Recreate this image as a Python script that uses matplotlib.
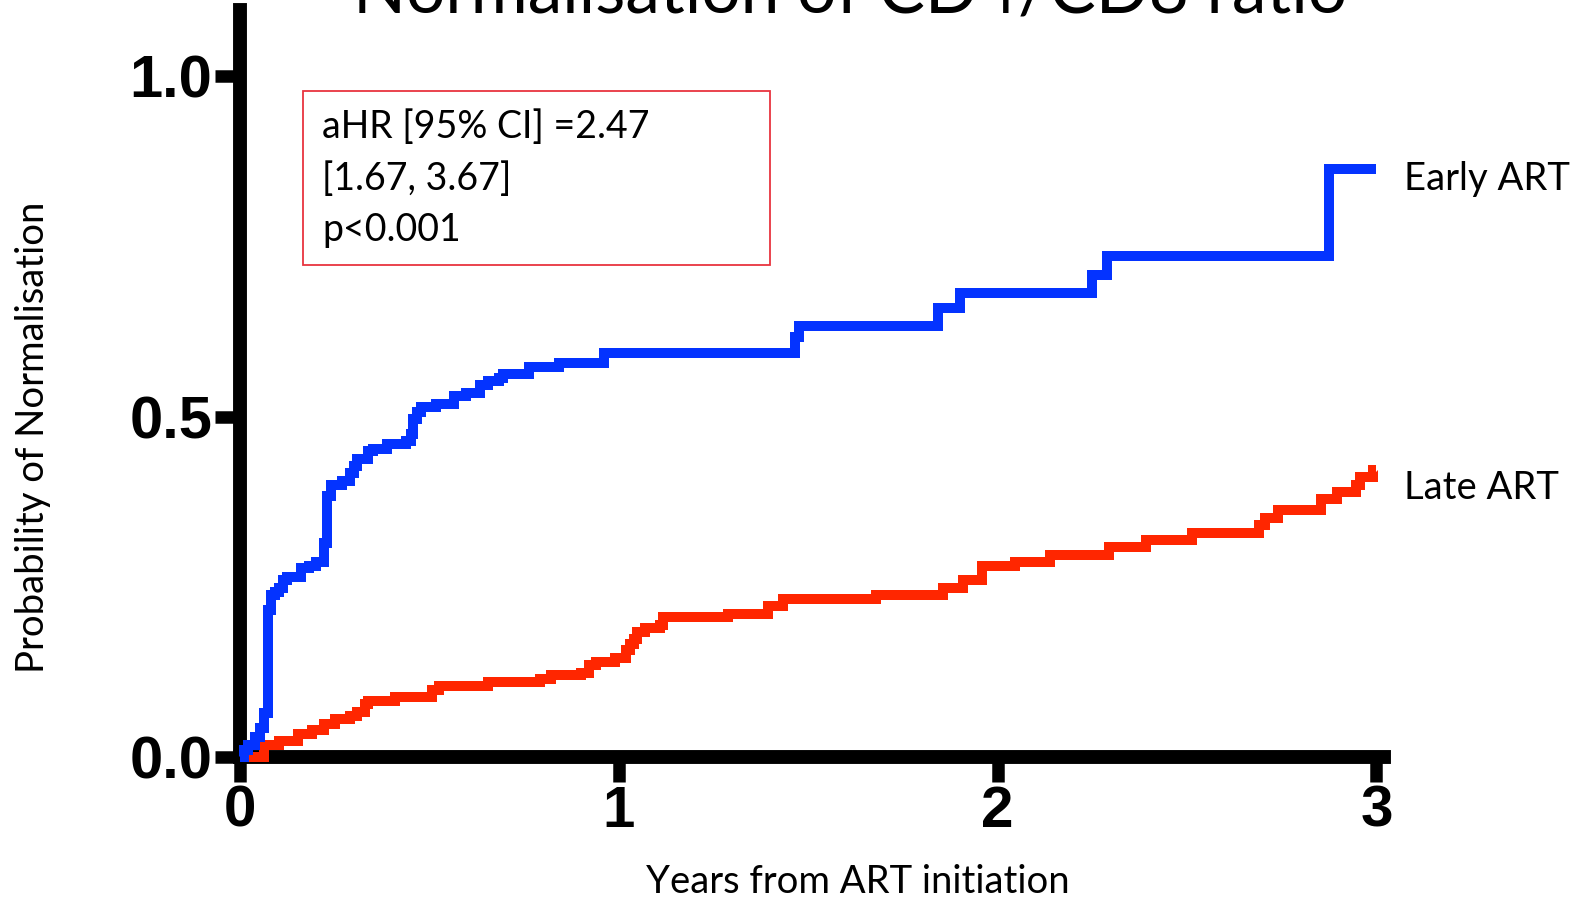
import matplotlib
matplotlib.use("Agg")
import matplotlib.pyplot as plt
from matplotlib.patches import Rectangle

# step times (years) and cumulative probability after each step
early_t = [0.0, 0.01, 0.02, 0.04, 0.053, 0.064, 0.075, 0.081, 0.092, 0.104,
           0.114, 0.123, 0.161, 0.182, 0.201, 0.223, 0.230, 0.240, 0.270, 0.290,
           0.302, 0.310, 0.339, 0.350, 0.388, 0.438, 0.451, 0.458, 0.468, 0.478,
           0.518, 0.566, 0.597, 0.634, 0.656, 0.684, 0.695, 0.763, 0.842, 0.962,
           1.466, 1.476, 1.842, 1.901, 2.249, 2.288, 2.874, 3.0]
early_p = [0.0, 0.010, 0.018, 0.030, 0.042, 0.064, 0.216, 0.238, 0.243, 0.248,
           0.260, 0.265, 0.277, 0.281, 0.287, 0.314, 0.383, 0.399, 0.406, 0.417,
           0.427, 0.438, 0.449, 0.453, 0.460, 0.464, 0.475, 0.497, 0.507, 0.514,
           0.518, 0.530, 0.535, 0.546, 0.552, 0.557, 0.562, 0.572, 0.578, 0.594,
           0.617, 0.633, 0.659, 0.681, 0.708, 0.736, 0.864, 0.864]

late_t = [0.0, 0.064, 0.103, 0.154, 0.191, 0.223, 0.251, 0.290, 0.310, 0.330,
          0.339, 0.409, 0.508, 0.526, 0.656, 0.792, 0.821, 0.900, 0.922, 0.940,
          0.990, 1.019, 1.030, 1.040, 1.047, 1.068, 1.108, 1.117, 1.287, 1.395,
          1.434, 1.680, 1.857, 1.908, 1.958, 2.046, 2.137, 2.294, 2.392, 2.512,
          2.689, 2.707, 2.739, 2.855, 2.895, 2.945, 2.956, 2.99, 3.0]
late_p = [0.0, 0.018, 0.023, 0.034, 0.040, 0.049, 0.056, 0.060, 0.066, 0.078,
          0.082, 0.088, 0.098, 0.104, 0.110, 0.115, 0.120, 0.124, 0.135, 0.139,
          0.145, 0.157, 0.166, 0.173, 0.183, 0.189, 0.194, 0.206, 0.210, 0.222,
          0.232, 0.238, 0.248, 0.260, 0.280, 0.286, 0.296, 0.308, 0.318, 0.329,
          0.341, 0.351, 0.362, 0.379, 0.389, 0.399, 0.411, 0.421, 0.421]

groups = ["Early ART", "Late ART"]
stats_lines = ["aHR [95% CI] =2.47", "[1.67, 3.67]", "p<0.001"]
x_ticks = [0, 1, 2, 3]
y_ticks = [0.0, 0.5, 1.0]

BLUE = "#0433FF"
RED = "#FF2600"
W, H = 1575, 901

fig = plt.figure(figsize=(W / 100, H / 100), dpi=100)
ax = fig.add_axes([240 / W, (H - 757) / H, (1384 - 240) / W, (757 - 10) / H])

ax.step(early_t, early_p, where="post", color=BLUE, lw=7.2,
        solid_joinstyle="miter", solid_capstyle="butt", clip_on=False, zorder=5)
ax.step(late_t, late_p, where="post", color=RED, lw=7.2,
        solid_joinstyle="miter", solid_capstyle="butt", clip_on=False, zorder=4)

ax.set_xlim(0, 3.02)
ax.set_ylim(0, 1.097)
for s in ["top", "right"]:
    ax.spines[s].set_visible(False)
for s in ["left", "bottom"]:
    ax.spines[s].set_linewidth(10)
    ax.spines[s].set_capstyle("projecting")

ax.set_xticks(x_ticks)
ax.set_xticklabels([str(v) for v in x_ticks], fontfamily="Liberation Sans",
                   fontweight="bold", fontsize=42)
ax.set_yticks(y_ticks)
ax.set_yticklabels([f"{v:.1f}" for v in y_ticks], fontfamily="Liberation Sans",
                   fontweight="bold", fontsize=43)
ax.tick_params(axis="both", direction="out", length=18, width=9, color="black")
ax.tick_params(axis="y", pad=2)
ax.tick_params(axis="x", pad=2)

lab_font = dict(family="Lato", fontsize=27.5, color="black")
fig.text(858 / W, 1 - 882 / H, "Years from ART initiation", ha="center", va="center",
         **lab_font)
fig.text(33 / W, 1 - 437 / H, "Probability of Normalisation", ha="center", va="center",
         rotation=90, **lab_font)

# group labels at the right end of each curve
ax.text(3.074, 0.849, groups[0], va="center", ha="left", clip_on=False, **lab_font)
ax.text(3.074, 0.395, groups[1], va="center", ha="left", clip_on=False, **lab_font)

# hazard ratio box
fig.patches.append(Rectangle((303 / W, 1 - 265 / H), (770 - 303) / W, (265 - 91) / H,
                             transform=fig.transFigure, fill=False,
                             edgecolor="#E8343F", lw=1.3))
for i, line in enumerate(stats_lines):
    fig.text(322 / W, 1 - (127 + 51.5 * i) / H, line, va="center", ha="left",
             family="Lato", fontsize=27, color="black")

fig.text(850 / W, 1 - 13 / H, "Normalisation of CD4/CD8 ratio", ha="center",
         va="baseline", family="Lato", fontsize=50)

fig.savefig("out.png", dpi=100)
